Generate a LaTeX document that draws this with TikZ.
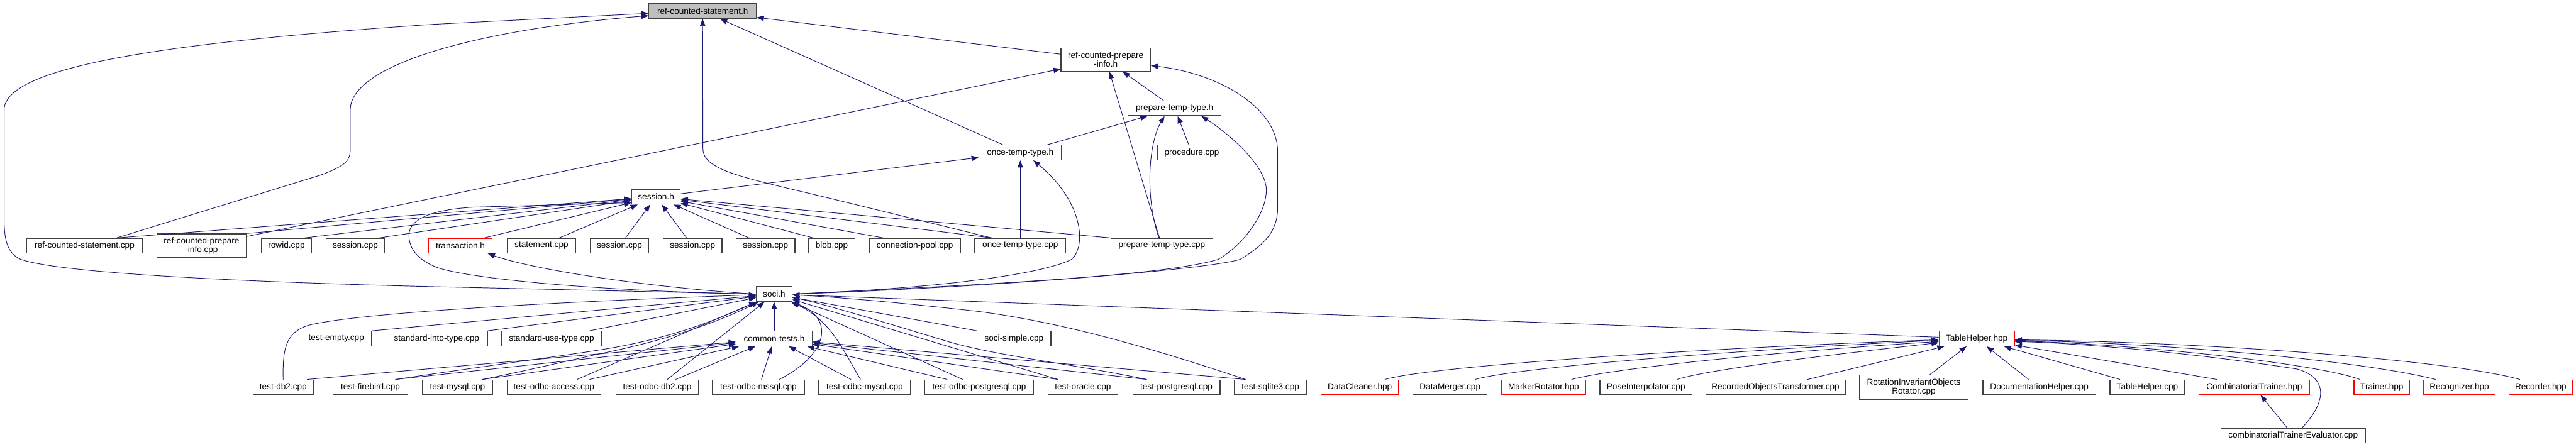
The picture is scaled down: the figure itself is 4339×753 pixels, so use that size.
\documentclass[tikz,border=0pt]{standalone}
\usepackage{fontspec}
\setmainfont{Liberation Sans}
\usetikzlibrary{arrows.meta}
\definecolor{edgeblue}{HTML}{191970}
\definecolor{boxgray}{HTML}{404040}
\definecolor{rootgray}{HTML}{BFBFBF}

\begin{document}
\begin{tikzpicture}[x=1pt,y=-1pt,
file/.style={draw=boxgray,line width=1.3pt,fill=white,inner sep=0pt,minimum height=25pt,align=center,font=\fontsize{14.4}{14.4}\selectfont},
trunc/.style={file,draw=red},
root/.style={file,fill=rootgray},
inc/.style={draw=edgeblue,line width=1pt,-{Triangle[length=12pt,width=9pt]}}]
\useasboundingbox (0,0) rectangle (4339,753);

\node[root,minimum width=181] (rcsh) at (1183.5,18.5) {ref-counted-statement.h};
\node[file,minimum width=151,minimum height=39] (rcpih) at (1862.5,100.5) {ref-counted-prepare\\-info.h};
\node[file,minimum width=157] (ptth) at (1978.5,182.5) {prepare-temp-type.h};
\node[file,minimum width=139] (othh) at (1718.5,257) {once-temp-type.h};
\node[file,minimum width=115] (proc) at (2007.5,257) {procedure.cpp};
\node[file,minimum width=82] (sessh) at (1105,331.5) {session.h};

\node[file,minimum width=195] (rcscpp) at (142.5,414) {ref-counted-statement.cpp};
\node[file,minimum width=151,minimum height=40] (rcpicpp) at (339.5,414) {ref-counted-prepare\\-info.cpp};
\node[file,minimum width=85] (rowid) at (482.5,414) {rowid.cpp};
\node[file,minimum width=99] (sessA) at (598.5,414) {session.cpp};
\node[trunc,minimum width=107] (transh) at (775.5,414) {transaction.h};
\node[file,minimum width=116] (stmt) at (912,414) {statement.cpp};
\node[file,minimum width=99] (sessB) at (1043.5,414) {session.cpp};
\node[file,minimum width=99] (sessC) at (1166.5,414) {session.cpp};
\node[file,minimum width=99] (sessD) at (1289.5,414) {session.cpp};
\node[file,minimum width=78] (blob) at (1401,414) {blob.cpp};
\node[file,minimum width=154] (pool) at (1541,414) {connection-pool.cpp};
\node[file,minimum width=153] (othcpp) at (1718.5,414) {once-temp-type.cpp};
\node[file,minimum width=172] (pttcpp) at (1957,414) {prepare-temp-type.cpp};

\node[file,minimum width=60] (socih) at (1304,495.5) {soci.h};

\node[file,minimum width=119] (empty) at (566.5,570.5) {test-empty.cpp};
\node[file,minimum width=171] (into) at (735.5,570.5) {standard-into-type.cpp};
\node[file,minimum width=168] (use) at (929,570.5) {standard-use-type.cpp};
\node[file,minimum width=128] (commh) at (1304,570.5) {common-tests.h};
\node[file,minimum width=124] (simple) at (1708,570.5) {soci-simple.cpp};
\node[trunc,minimum width=127] (thh) at (3329.5,570.5) {TableHelper.hpp};

\node[file,minimum width=102] (db2) at (477,652.5) {test-db2.cpp};
\node[file,minimum width=126] (fb) at (624,652.5) {test-firebird.cpp};
\node[file,minimum width=119] (mysql) at (770.5,652.5) {test-mysql.cpp};
\node[file,minimum width=158] (oacc) at (933,652.5) {test-odbc-access.cpp};
\node[file,minimum width=138] (odb2) at (1107,652.5) {test-odbc-db2.cpp};
\node[file,minimum width=155] (omss) at (1277.5,652.5) {test-odbc-mssql.cpp};
\node[file,minimum width=155] (omys) at (1456.5,652.5) {test-odbc-mysql.cpp};
\node[file,minimum width=183] (opg) at (1649.5,652.5) {test-odbc-postgresql.cpp};
\node[file,minimum width=118] (ora) at (1824,652.5) {test-oracle.cpp};
\node[file,minimum width=147] (pg) at (1981.5,652.5) {test-postgresql.cpp};
\node[file,minimum width=122] (sq3) at (2140,652.5) {test-sqlite3.cpp};
\node[trunc,minimum width=131] (dclean) at (2290.5,652.5) {DataCleaner.hpp};
\node[file,minimum width=125] (dmerge) at (2442.5,652.5) {DataMerger.cpp};
\node[trunc,minimum width=142] (mrot) at (2600,652.5) {MarkerRotator.hpp};
\node[file,minimum width=155] (pose) at (2772.5,652.5) {PoseInterpolator.cpp};
\node[file,minimum width=235] (recobj) at (2990.5,652.5) {RecordedObjectsTransformer.cpp};
\node[file,minimum width=183,minimum height=41] (rinv) at (3223.5,652.5) {RotationInvariantObjects\\Rotator.cpp};
\node[file,minimum width=190] (doc) at (3435,652.5) {DocumentationHelper.cpp};
\node[file,minimum width=126] (thcpp) at (3617,652.5) {TableHelper.cpp};
\node[trunc,minimum width=186] (ctr) at (3797,652.5) {CombinatorialTrainer.hpp};
\node[trunc,minimum width=94] (trainer) at (4012,652.5) {Trainer.hpp};
\node[trunc,minimum width=121] (recog) at (4142.5,652.5) {Recognizer.hpp};
\node[trunc,minimum width=107] (recorder) at (4279.5,652.5) {Recorder.hpp};
\node[file,minimum width=243] (cte) at (3862.5,734) {combinatorialTrainerEvaluator.cpp};

\draw[inc] (rcpih) -- (rcsh);
\draw[inc] (othh) -- (rcsh);
\draw[inc] ([xshift=-48]othcpp.north) -- (1430,342) .. controls (1260,300) and (1184,290) .. (1184,250) -- (rcsh.south);
\draw[inc] ([xshift=54]rcscpp.north) -- (540,295) .. controls (585,278) and (590,270) .. (590,250) -- (590,185) .. controls (590,110) and (800,50) .. ([yshift=-8]rcsh.west);
\draw[inc] (socih.west) -- (730,483) .. controls (400,475) and (100,460) .. (35,437) .. controls (15,428) and (7,410) .. (7,370) -- (7,185) .. controls (7,110) and (300,70) .. (730,41) -- ([yshift=-4]rcsh.west);

\draw[inc] (rcpicpp) -- (rcpih);
\draw[inc] (ptth) -- (rcpih);
\draw[inc] (pttcpp) -- (rcpih);
\draw[inc] (socih.east) .. controls (1650,485) and (2030,455) .. (2089,437) .. controls (2130,412) and (2152,390) .. (2152,350) -- (2152,255) .. controls (2152,185) and (2060,125) .. ([yshift=-10]rcpih.east);

\draw[inc] (othh) -- (ptth);
\draw[inc] (proc) -- (ptth);
\draw[inc] ([xshift=-5]pttcpp.north) .. controls (1928,330) and (1935,240) .. ([xshift=-17]ptth.south);
\draw[inc] (socih.east) .. controls (1650,480) and (1960,465) .. (2052,437) .. controls (2095,412) and (2133,360) .. (2133,320) .. controls (2133,280) and (2070,225) .. ([xshift=45]ptth.south);

\draw[inc] (sessh) -- (othh);
\draw[inc] (othcpp) -- (othh);
\draw[inc] (socih.east) .. controls (1600,485) and (1760,460) .. (1805,437) .. controls (1830,415) and (1825,340) .. ([xshift=22]othh.south);

\draw[inc] ([xshift=54]rcscpp.north) -- (sessh);
\draw[inc] (rcpicpp.north east) -- (sessh);
\draw[inc] ([xshift=30]rowid.north) -- (sessh);
\draw[inc] ([xshift=40]sessA.north) -- (sessh);
\draw[inc] ([xshift=40]transh.north) -- (sessh);
\draw[inc] ([xshift=30]stmt.north) -- (sessh);
\draw[inc] ([xshift=10]sessB.north) -- (sessh);
\draw[inc] ([xshift=-10]sessC.north) -- (sessh);
\draw[inc] ([xshift=-28]sessD.north) -- (sessh);
\draw[inc] ([xshift=-31]blob.north) -- (sessh);
\draw[inc] ([xshift=-53]pool.north) -- (sessh);
\draw[inc] ([xshift=-48]othcpp.north) -- (sessh);
\draw[inc] (pttcpp.north west) -- (sessh);
\draw[inc] (socih.west) .. controls (1000,490) and (800,470) .. (740,452) .. controls (700,438) and (688,415) .. (689,395) .. controls (690,365) and (740,352) .. (800,349) -- ([yshift=-10]sessh.west);

\draw[inc] (socih.west) .. controls (1100,485) and (900,455) .. ([xshift=-8]transh.south east);

\draw[inc] (empty.north east) -- (socih);
\draw[inc] (into.north east) -- (socih);
\draw[inc] ([xshift=64]use.north) -- (socih);
\draw[inc] (commh) -- (socih);
\draw[inc] (db2.north) .. controls (476,590) and (480,560) .. (520,548) .. controls (600,528) and (900,510) .. (socih);
\draw[inc] ([xshift=42]fb.north) .. controls (850,612) and (960,598) .. (1020,588) .. controls (1140,568) and (1215,535) .. (socih);
\draw[inc] ([xshift=42]mysql.north) .. controls (900,622) and (980,602) .. (1030,592) .. controls (1150,566) and (1225,535) .. (socih);
\draw[inc] ([xshift=39]oacc.north) -- (socih);
\draw[inc] ([xshift=17]odb2.north) -- (socih);
\draw[inc] ([xshift=35]omss.north) .. controls (1390,600) and (1410,540) .. (socih);
\draw[inc] ([xshift=-7]omys.north) .. controls (1420,590) and (1400,540) .. (socih);
\draw[inc] ([xshift=-28]opg.north) -- (socih);
\draw[inc] ([xshift=-42]ora.north) -- (socih);
\draw[inc] ([xshift=-50]pg.north) .. controls (1800,612) and (1680,600) .. (1595,575) .. controls (1480,540) and (1380,510) .. (socih);
\draw[inc] ([xshift=-42]sq3.north) .. controls (1950,590) and (1800,545) .. (1650,525) .. controls (1500,508) and (1400,500) .. (socih);
\draw[inc] (simple.north west) -- (socih);
\draw[inc] (thh) -- (socih);

\draw[inc] ([xshift=40]db2.north) -- (commh);
\draw[inc] ([xshift=42]fb.north) -- (commh);
\draw[inc] ([xshift=42]mysql.north) -- (commh);
\draw[inc] ([xshift=60]oacc.north) -- (commh);
\draw[inc] ([xshift=31]odb2.north) -- (commh);
\draw[inc] ([xshift=5]omss.north) -- (commh);
\draw[inc] ([xshift=-23]omys.north) -- (commh);
\draw[inc] ([xshift=-54]opg.north) -- (commh);
\draw[inc] ([xshift=-42]ora.north) -- (commh);
\draw[inc] ([xshift=-50]pg.north) -- (commh);
\draw[inc] ([xshift=-42]sq3.north) -- (commh);

\draw[inc] ([xshift=42]dclean.north) .. controls (2420,615) and (2900,585) .. ([yshift=-2]thh.west);
\draw[inc] ([xshift=42]dmerge.north) .. controls (2560,618) and (2950,588) .. ([yshift=-3]thh.west);
\draw[inc] ([xshift=47]mrot.north) .. controls (2720,620) and (3000,592) .. ([yshift=-5]thh.west);
\draw[inc] ([xshift=52]pose.north) .. controls (2880,622) and (3080,598) .. ([yshift=-7]thh.west);
\draw[inc] ([xshift=54]recobj.north) -- (thh);
\draw[inc] ([xshift=27]rinv.north) -- (thh);
\draw[inc] ([xshift=-18]doc.north) -- (thh);
\draw[inc] ([xshift=-46]thcpp.north) -- (thh);
\draw[inc] ([xshift=-63]ctr.north) -- (thh);
\draw[inc] ([xshift=-37]trainer.north) .. controls (3900,612) and (3600,580) .. ([yshift=-4]thh.east);
\draw[inc] ([xshift=-40]recog.north) .. controls (3980,608) and (3650,578) .. ([yshift=-3]thh.east);
\draw[inc] ([xshift=-35]recorder.north) .. controls (4120,605) and (3700,576) .. ([yshift=-2]thh.east);
\draw[inc] ([xshift=15]cte.north) .. controls (3925,670) and (3915,635) .. (3870,622) .. controls (3700,595) and (3500,578) .. ([yshift=-5]thh.east);
\draw[inc] ([xshift=-10]cte.north) -- (ctr);
\end{tikzpicture}
\end{document}
